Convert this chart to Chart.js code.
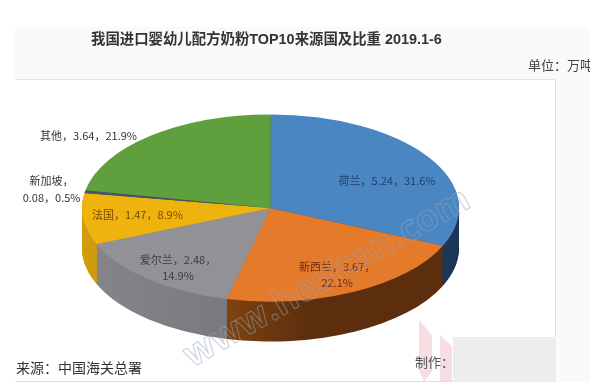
<!DOCTYPE html>
<html><head><meta charset="utf-8">
<script src="https://cdn.jsdelivr.net/npm/chart.js@4"></script>
<style>
html,body{margin:0;padding:0;background:#fff;overflow:hidden}
#stage{position:relative;width:600px;height:390px;filter:blur(0.6px);font-family:"Noto Sans CJK SC","Noto Sans",sans-serif}
#head{position:absolute;left:15px;top:27px;width:575px;height:52px;background:#fafafa}
#side{position:absolute;left:556px;top:79px;width:34px;height:303px;background:#fafafa}
#panel{position:absolute;left:15px;top:79px;width:541px;height:303px;background:#fff;border-top:1px solid #e6e6e6;border-right:1px solid #e0e0e0;border-bottom:1px solid #dcdcdc;box-sizing:border-box}
canvas{position:absolute;left:0;top:0}
.t{position:absolute;white-space:nowrap;color:#333}
#title{left:91px;top:29px;font-family:"Liberation Sans","Noto Sans CJK SC",sans-serif;font-size:14.4px;font-weight:700;line-height:20px;color:#333}
#unit{left:528px;top:56px;font-size:13px;line-height:18px;width:62px;overflow:hidden;color:#444}
#src{left:16px;top:358px;font-size:14px;line-height:18px;color:#333}
#mk{left:415px;top:353px;font-size:13px;line-height:18px;color:#555}
#pink1{position:absolute;left:419px;top:320px;width:13px;height:62px;background:#f6dde2;clip-path:polygon(0 0,100% 25%,100% 82%,40% 100%,0 80%)}
#pink2{position:absolute;left:440px;top:335px;width:12px;height:46px;background:#f6dde2;clip-path:polygon(0 0,100% 25%,100% 100%,0 100%)}
#mask{position:absolute;left:453px;top:337px;width:103px;height:45px;background:#ececee}
</style></head>
<body>
<div id="stage">
  <div id="head"></div><div id="side"></div><div id="panel"></div>
  <div id="pink1"></div><div id="pink2"></div><div id="mask"></div>
  <canvas id="c" width="600" height="390"></canvas>
  <div class="t" id="title">我国进口婴幼儿配方奶粉TOP10来源国及比重 2019.1-6</div>
  <div class="t" id="unit">单位：万吨</div>
  <div class="t" id="src">来源：中国海关总署</div>
  <div class="t" id="mk">制作：</div>
</div>
<script>
const categories = ['荷兰','新西兰','爱尔兰','法国','新加坡','其他'];
const tonnage = [5.24,3.67,2.48,1.47,0.08,3.64];
const shares = ['31.6%','22.1%','14.9%','8.9%','0.5%','21.9%'];
const topColors = ['#4a86c2','#e57a2b','#929296','#efb30e','#44546a','#5f9f3e'];
const wallLeft = ['#2c5a88','#94500f','#85858a','#d09c0c','#333f50','#3f6c29'];
const wallRight = ['#1c3557','#5c2e0e','#66666c','#b88a08','#333f50','#3f6c29'];
const labelInk = ['#1f3f6b','#6e2a10','#3c3c40','#7a4a08','#333333','#333333'];
const labelBreak = [false,true,true,false,true,false];

const view = {cx:270.5, cy:208, squash:0.496, depth:40};
const labelNudge = [[6,9],[8,8],[-7,10],[-2,-1],[-89,-7],[-98,-22]];

function project(ctx, arc){
  ctx.translate(view.cx, view.cy);
  ctx.scale(1, view.squash);
  ctx.translate(-arc.x, -arc.y);
}
const tilt = {
  id:'tilt',
  beforeDatasetsDraw(chart){
    const ctx = chart.ctx, arcs = chart.getDatasetMeta(0).data;
    const R = arcs[0].outerRadius;
    for(let d=view.depth; d>=1; d--){
      arcs.forEach((a,i)=>{
        ctx.save();
        ctx.translate(0,d);
        project(ctx,a);
        const g = ctx.createLinearGradient(a.x-R,0,a.x+R,0);
        const from = i===1 ? 0.25 : 0, to = i===1 ? 0.6 : 1;
        g.addColorStop(from,wallLeft[i]); g.addColorStop(to,wallRight[i]);
        ctx.fillStyle = g;
        ctx.beginPath();
        ctx.moveTo(a.x,a.y);
        ctx.arc(a.x,a.y,R,a.startAngle,a.endAngle);
        ctx.closePath();
        ctx.fill();
        ctx.restore();
      });
    }
    ctx.save();
    project(ctx,arcs[0]);
  },
  afterDatasetsDraw(chart){
    const ctx = chart.ctx, arcs = chart.getDatasetMeta(0).data;
    ctx.restore();
    ctx.save();
    ctx.font = '11px "Noto Sans CJK SC","Open Sans",sans-serif';
    ctx.textAlign='center'; ctx.textBaseline='middle';
    arcs.forEach((a,i)=>{
      const mid=(a.startAngle+a.endAngle)/2, r=a.outerRadius*0.7;
      const x=view.cx+Math.cos(mid)*r+labelNudge[i][0];
      const y=view.cy+Math.sin(mid)*r*view.squash+labelNudge[i][1];
      ctx.fillStyle=labelInk[i];
      const v=tonnage[i].toFixed(2), name=categories[i], s=shares[i];
      if(labelBreak[i]){
        if(i===4){ ctx.fillText(name+'，',x,y-8.5); ctx.fillText(v+'，'+s,x,y+8.5); }
        else { ctx.fillText(name+'，'+v+'，',x,y-8); ctx.fillText(s,x,y+8); }
      } else ctx.fillText(name+'，'+v+'，'+s,x,y);
    });
    ctx.restore();
    // site watermark from the source picture
    ctx.save();
    ctx.translate(192,368);
    ctx.rotate(-30*Math.PI/180);
    ctx.font='bold 36px "Open Sans",sans-serif';
    ctx.textBaseline='alphabetic';
    ctx.lineWidth=1.1;
    ctx.strokeStyle='rgba(150,165,185,0.5)';
    ctx.strokeText('www.hesitan.com',0,0);
    ctx.restore();
  }
};
new Chart(document.getElementById('c'),{
  type:'pie',
  data:{labels:categories,datasets:[{data:tonnage,backgroundColor:topColors,borderWidth:0,hoverOffset:0}]},
  options:{
    responsive:false,animation:false,events:[],
    layout:{padding:{left:82,right:141,top:6.5,bottom:6.5}},
    plugins:{legend:{display:false},tooltip:{enabled:false},title:{display:false}}
  },
  plugins:[tilt]
});
</script>
</body></html>
